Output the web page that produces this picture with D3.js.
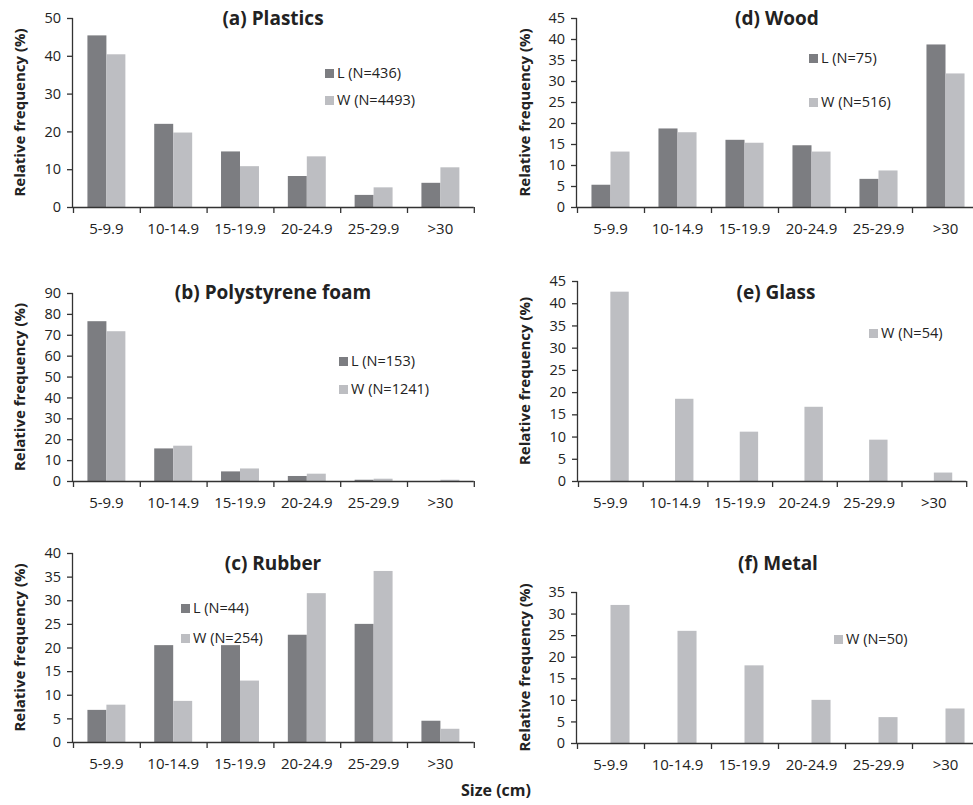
<!DOCTYPE html>
<html>
<head>
<meta charset="utf-8">
<script src="https://cdn.jsdelivr.net/npm/d3@7"></script>
<style>
  body { margin: 0; background: #fff; }
  text { font-family: "Open Sans", sans-serif; fill: #222; }
</style>
</head>
<body>
<div id="app"></div>
<script>
// size classes (cm)
const CATEGORIES = ['5-9.9', '10-14.9', '15-19.9', '20-24.9', '25-29.9', '>30'];

// relative frequency (%), L and W series
const PLASTICS_L = [45.4, 22.0, 14.7, 8.2, 3.2, 6.4];
const PLASTICS_W = [40.4, 19.7, 10.8, 13.4, 5.2, 10.5];
const FOAM_L = [76.5, 15.6, 4.6, 2.4, 0.6, 0.0];
const FOAM_W = [71.7, 16.9, 6.0, 3.5, 1.1, 0.6];
const RUBBER_L = [6.8, 20.5, 20.5, 22.7, 25.0, 4.5];
const RUBBER_W = [7.9, 8.7, 13.0, 31.5, 36.2, 2.8];
const WOOD_L = [5.3, 18.7, 16.0, 14.7, 6.7, 38.7];
const WOOD_W = [13.2, 17.8, 15.3, 13.2, 8.7, 31.8];
const GLASS_W = [42.6, 18.5, 11.1, 16.7, 9.3, 1.9];
const METAL_W = [32.0, 26.0, 18.0, 10.0, 6.0, 8.0];

const TITLES = ['(a) Plastics', '(b) Polystyrene foam', '(c) Rubber', '(d) Wood', '(e) Glass', '(f) Metal'];
const LEGEND_L = ['L (N=436)', 'L (N=153)', 'L (N=44)', 'L (N=75)', null, null];
const LEGEND_W = ['W (N=4493)', 'W (N=1241)', 'W (N=254)', 'W (N=516)', 'W (N=54)', 'W (N=50)'];
const Y_MAX = [50, 90, 40, 45, 45, 35];
const Y_STEP = [10, 10, 5, 5, 5, 5];

const COLORS = {L: '#7c7d81', W: '#bdbec2'};

// panel layout: plot box + where the title/legend sit
const LAYOUT = [
  {x0: 73,  step: 66.8, top: 18,  bottom: 207, titleX: 273, titleY: 25,  legX: 329, legY: 73,  legGap: 27, labX: 20},
  {x0: 73,  step: 66.8, top: 293, bottom: 481, titleX: 273, titleY: 299, legX: 343, legY: 361, legGap: 28, labX: 20},
  {x0: 73,  step: 66.8, top: 553, bottom: 742, titleX: 273, titleY: 570, legX: 185, legY: 608, legGap: 30, labX: 20},
  {x0: 577, step: 67,   top: 18,  bottom: 207, titleX: 777, titleY: 25,  legX: 813, legY: 58,  legGap: 44, labX: 525},
  {x0: 578, step: 64.7, top: 281, bottom: 481, titleX: 776, titleY: 299, legX: 873, legY: 333, legGap: 0,  labX: 525},
  {x0: 577, step: 67,   top: 592, bottom: 743, titleX: 778, titleY: 570, legX: 838, legY: 639, legGap: 0,  labX: 525}
];

const SERIES = [
  {L: PLASTICS_L, W: PLASTICS_W},
  {L: FOAM_L, W: FOAM_W},
  {L: RUBBER_L, W: RUBBER_W},
  {L: WOOD_L, W: WOOD_W},
  {L: null, W: GLASS_W},
  {L: null, W: METAL_W}
];

const svg = d3.select('#app')
  .append('svg')
  .attr('width', 973)
  .attr('height', 805);

SERIES.forEach((s, i) => drawPanel(s, i));

svg.append('text')
  .attr('x', 496).attr('y', 796)
  .attr('text-anchor', 'middle')
  .style('font-size', '16px').style('font-weight', 'bold')
  .text('Size (cm)');

function drawPanel(series, i) {
  const lay = LAYOUT[i];
  const x = d3.scaleBand().domain(CATEGORIES).range([lay.x0, lay.x0 + 6 * lay.step]);
  const xIn = d3.scaleBand().domain(['L', 'W']).range([0, x.bandwidth()])
    .paddingInner(0).paddingOuter(0.76);
  const y = d3.scaleLinear().domain([0, Y_MAX[i]]).range([lay.bottom, lay.top]);

  const g = svg.append('g');

  ['L', 'W'].forEach(key => {
    if (!series[key]) return;
    g.selectAll('rect.' + key)
      .data(series[key]).enter()
      .append('rect')
      .attr('class', key)
      .attr('x', (d, j) => x(CATEGORIES[j]) + xIn(key))
      .attr('y', d => y(d))
      .attr('width', xIn.bandwidth())
      .attr('height', d => lay.bottom - y(d))
      .attr('fill', COLORS[key]);
  });

  const yAxis = d3.axisLeft(y)
    .tickValues(d3.range(0, Y_MAX[i] + 0.001, Y_STEP[i]))
    .tickSize(6).tickPadding(6);
  const ya = g.append('g').attr('transform', `translate(${lay.x0},0)`).call(yAxis);
  ya.select('.domain').attr('d', `M-0.5,${lay.top}V${lay.bottom}`);

  const tickPos = d3.range(7).map(k => x.range()[0] + k * x.step());
  const xa = g.append('g');
  xa.append('line')
    .attr('x1', lay.x0).attr('x2', tickPos[6])
    .attr('y1', lay.bottom + 0.5).attr('y2', lay.bottom + 0.5);
  xa.selectAll('line.tk').data(tickPos).enter()
    .append('line').attr('class', 'tk')
    .attr('x1', d => d + 0.5).attr('x2', d => d + 0.5)
    .attr('y1', lay.bottom).attr('y2', lay.bottom + 6);
  xa.selectAll('line').attr('stroke', '#333').attr('stroke-width', 1.3);
  xa.selectAll('text').data(CATEGORIES).enter()
    .append('text')
    .attr('x', d => x(d) + x.bandwidth() / 2)
    .attr('y', lay.bottom + 27)
    .attr('text-anchor', 'middle')
    .style('font-size', '15px')
    .text(d => d);

  ya.selectAll('path, line').attr('stroke', '#333').attr('stroke-width', 1.3);
  ya.selectAll('text').style('font-size', '14.5px').style('font-family', '"Open Sans", sans-serif').attr('fill', '#222');

  g.append('text')
    .attr('transform', `translate(${lay.labX + 5},${(lay.top + lay.bottom) / 2}) rotate(-90)`)
    .attr('text-anchor', 'middle')
    .style('font-size', '15px').style('font-weight', 'bold')
    .text('Relative frequency (%)');

  g.append('text')
    .attr('x', lay.titleX).attr('y', lay.titleY)
    .attr('text-anchor', 'middle')
    .style('font-size', '19px').style('font-weight', 'bold')
    .text(TITLES[i]);

  // legend
  const items = [];
  if (LEGEND_L[i]) items.push({key: 'L', label: LEGEND_L[i]});
  items.push({key: 'W', label: LEGEND_W[i]});
  items.forEach((it, k) => {
    const cy = lay.legY + k * lay.legGap;
    g.append('rect')
      .attr('x', lay.legX - 4).attr('y', cy - 4)
      .attr('width', 9).attr('height', 9)
      .attr('fill', COLORS[it.key]);
    g.append('text')
      .attr('x', lay.legX + 8).attr('y', cy + 5)
      .style('font-size', '14.5px')
      .text(it.label);
  });
}
</script>
</body>
</html>
